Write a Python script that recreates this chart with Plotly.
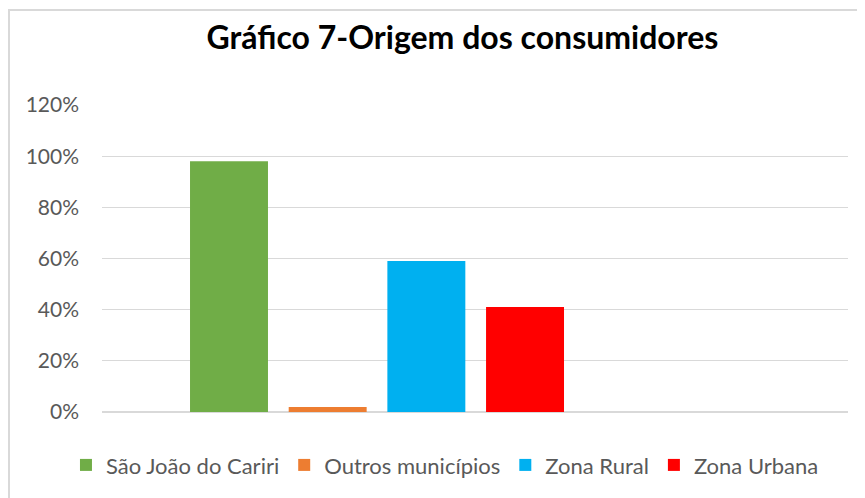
import plotly.graph_objects as go

# Origem dos consumidores (percentual)
categorias = ["São João do Cariri", "Outros municípios", "Zona Rural", "Zona Urbana"]
valores = [0.98, 0.02, 0.59, 0.41]
cores = ["#70AD47", "#ED7D31", "#00B0F0", "#FF0000"]
ticks_y = [0, 0.2, 0.4, 0.6, 0.8, 1.0, 1.2]

fig = go.Figure()
for nome, v, c in zip(categorias, valores, cores):
    fig.add_trace(go.Bar(x=[nome], y=[v], name=nome, marker=dict(color=c, line=dict(width=0)),
                         width=0.79))

font_name = "Lato"
grey = "#595959"

# a página tem 8px de margem no body, por isso tudo é deslocado 8px
fig.update_layout(
    width=865, height=498,
    barmode="overlay",
    plot_bgcolor="white",
    paper_bgcolor="white",
    margin=dict(l=94, r=25, t=97, b=94),
    title=dict(text="<b>Gráfico 7-Origem dos consumidores</b>", x=0.5254, xanchor="center",
               y=0.94, yanchor="middle",
               font=dict(family=font_name, size=32, color="black")),
    xaxis=dict(type="category", categoryorder="array", categoryarray=categorias,
               range=[-1.287, 6.273], showticklabels=False, showgrid=False,
               zeroline=False, showline=False, ticks=""),
    yaxis=dict(range=[0, 1.2], tickvals=ticks_y, tickformat=".0%",
               showgrid=True, gridcolor="#D9D9D9", gridwidth=1.3,
               zeroline=True, zerolinecolor="#D9D9D9", zerolinewidth=1.5,
               showline=False, ticks="", ticklabelstandoff=22,
               tickfont=dict(family=font_name, size=21, color=grey)),
    # ancorada à esquerda fora da área do gráfico para caber numa só linha
    legend=dict(orientation="h", x=-0.0483, xanchor="left", y=-0.173, yanchor="middle",
                font=dict(family=font_name, size=22, color=grey),
                itemwidth=30, traceorder="normal"),
    showlegend=True,
)

# moldura do gráfico (borda cinza clara, cortada à direita e embaixo)
fig.add_shape(type="rect", xref="paper", yref="paper",
              x0=-0.1247, x1=1.08, y0=-0.4, y1=1.3094,
              line=dict(color="#D9D9D9", width=2), fillcolor="rgba(0,0,0,0)", layer="below")

fig.write_html("out.html")
